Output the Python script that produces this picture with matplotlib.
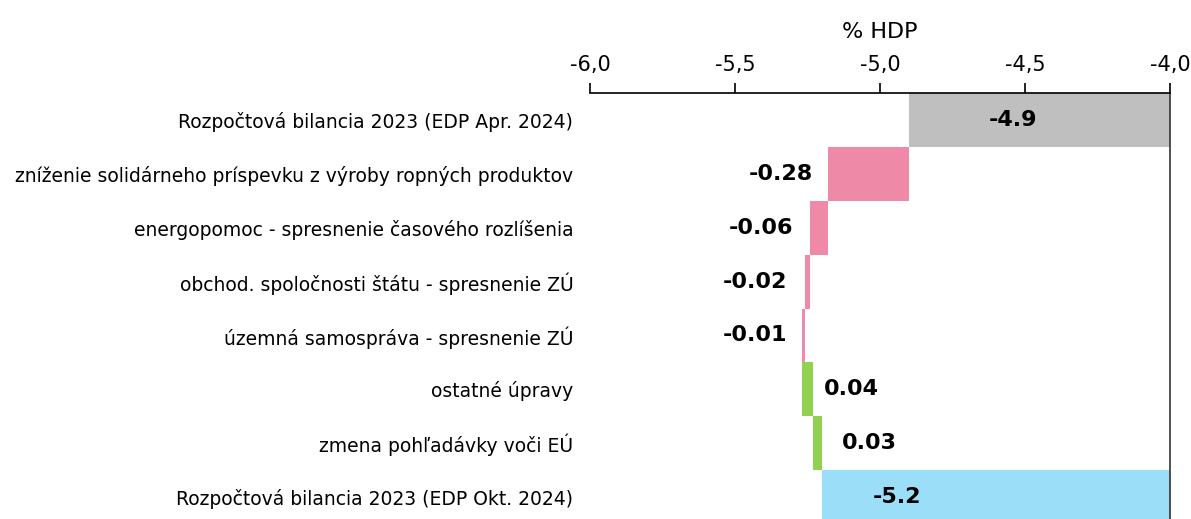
import numpy as np
import matplotlib.pyplot as plt

plt.rcParams['font.family'] = ['DejaVu Sans']

# popisy kategorii
kategorie = [
    "Rozpočtová bilancia 2023 (EDP Apr. 2024)",
    "zníženie solidárneho príspevku z výroby ropných produktov",
    "energopomoc - spresnenie časového rozlíšenia",
    "obchod. spoločnosti štátu - spresnenie ZÚ",
    "územná samospráva - spresnenie ZÚ",
    "ostatné úpravy",
    "zmena pohľadávky voči EÚ",
    "Rozpočtová bilancia 2023 (EDP Okt. 2024)",
]
zaciatok = -4.9
zmeny = [-0.28, -0.06, -0.02, -0.01, 0.04, 0.03]
koniec = -5.2
popisy = ["-4.9", "-0.28", "-0.06", "-0.02", "-0.01", "0.04", "0.03", "-5.2"]
tiky = [-6.0, -5.5, -5.0, -4.5, -4.0]

seda = "#BFBFBF"
ruzova = "#EE89A8"
zelena = "#92D050"
modra = "#9ADEF7"

fig = plt.figure(figsize=(11.91, 5.19), dpi=100)
ax = fig.add_axes([590 / 1191, -5 / 519, 580 / 1191, 431 / 519])

n = len(kategorie)
y = np.arange(n)

# waterfall
lavo = [0.0] * n
sirka = [0.0] * n
farby = [seda]
sirka[0] = zaciatok
kum = zaciatok
for i, z in enumerate(zmeny):
    lavo[i + 1] = kum
    sirka[i + 1] = z
    farby.append(ruzova if z < 0 else zelena)
    kum += z
sirka[-1] = koniec
farby.append(modra)

ax.barh(y, sirka, left=lavo, height=1.0, color=farby, edgecolor="none")

# popisy hodnot
odsadenie = [0, 0.05, 0.06, 0.06, 0.05, 0.035, 0.07, 0]
for i in range(n):
    if i == 0:
        ax.text(-4.54, y[i], popisy[i], ha="center", va="center",
                fontsize=16, fontweight="bold")
    elif i == n - 1:
        ax.text(-4.94, y[i], popisy[i], ha="center", va="center",
                fontsize=16, fontweight="bold")
    else:
        a = lavo[i]
        b = lavo[i] + sirka[i]
        if sirka[i] < 0:
            ax.text(min(a, b) - odsadenie[i], y[i], popisy[i], ha="right",
                    va="center", fontsize=16, fontweight="bold")
        else:
            ax.text(max(a, b) + odsadenie[i], y[i], popisy[i], ha="left",
                    va="center", fontsize=16, fontweight="bold")

ax.set_xlim(-6, -4)
ax.set_ylim(n - 0.5, -0.5)
ax.set_yticks(y)
ax.set_yticklabels(kategorie, fontsize=13.5)
ax.tick_params(axis="y", length=0, pad=12)

ax.xaxis.tick_top()
ax.xaxis.set_label_position("top")
ax.set_xticks(tiky)
ax.set_xticklabels([f"{t:.1f}".replace(".", ",") for t in tiky], fontsize=15)
ax.tick_params(axis="x", length=7, width=1.2, pad=6)
ax.set_xlabel("% HDP", fontsize=16, labelpad=12)

ax.spines["left"].set_visible(False)
ax.spines["bottom"].set_visible(False)
ax.spines["top"].set_linewidth(1.2)
ax.spines["right"].set_linewidth(1.2)
ax.spines["right"].set_color("#333333")

fig.savefig("out.png", dpi=100)
